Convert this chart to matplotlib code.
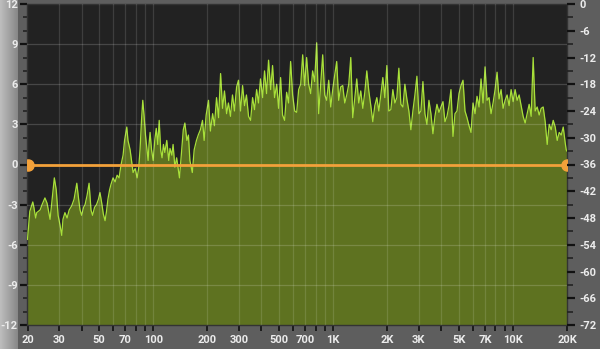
import numpy as np
import matplotlib.pyplot as plt

# ---- data -------------------------------------------------------------
# low band: hand-read (Hz, dB on the left scale)
low_freq = [20, 20.3, 20.6, 21.4, 21.7, 22.2, 22.5, 23.5, 24.1, 25.0, 25.7, 26.7,
            27.4, 28.2, 28.9, 29.6, 30.3, 31.0, 31.5, 32.3, 33.2, 34.1, 35.2, 36.3,
            37.6, 38.5, 39.2, 40.0, 41.0, 41.8, 42.9, 44.0, 45.1, 46.0, 47.2, 48.4,
            49.6, 50.6, 51.9, 52.8, 54.0, 55.0, 56.0, 57.2, 58.2, 59.8, 61.4, 63.0,
            64.6, 66.3, 68.0, 69.3, 71.3, 72.4, 74.4, 75.8, 77.3, 79.4, 81.4, 83.0,
            84.5, 86.1, 87.5, 88.9, 90.6, 92.4, 93.7, 94.8, 96.1, 97.9, 100, 102,
            104, 106, 108, 110, 112, 114, 116, 119, 122, 124, 127, 129,
            132, 135, 138, 140, 144, 147, 150, 154, 157, 160, 165, 169,
            174, 178, 183, 188, 192, 197]
low_db = [-5.6, -4.5, -3.5, -2.8, -3.2, -4.0, -3.6, -3.4, -3.0, -2.5, -2.9, -4.1,
          -2.6, -1.0, -1.9, -3.8, -4.5, -5.3, -4.1, -3.6, -4.0, -3.4, -3.1, -2.6,
          -1.4, -2.6, -3.4, -3.8, -3.2, -3.0, -2.3, -1.4, -3.4, -3.8, -3.2, -3.0,
          -2.6, -2.1, -3.0, -3.7, -4.2, -3.5, -2.6, -1.9, -1.5, -1.0, -1.3, -0.8,
          -1.0, 0.0, 0.7, 1.8, 2.8, 1.8, 1.1, 0.3, -0.6, -0.3, -1.0, -0.3,
          1.1, 3.3, 4.8, 3.7, 2.2, 1.1, 0.3, 1.5, 2.4, 1.1, 0.3, 1.8,
          2.7, 1.5, 3.3, 1.1, 0.5, 1.5, 0.9, 1.8, 0.3, 1.2, 0.7, 1.5,
          -0.2, 0.5, -0.4, -1.0, 1.1, 2.6, 3.1, 1.8, 2.2, 0.3, -0.6, 1.1,
          1.8, 2.2, 2.6, 3.3, 1.8, 3.7]

# upper band: hand-read (Hz, dB)
high_freq = [203, 208, 214, 219, 225, 231, 237, 243, 249, 256,
             262, 269, 276, 283, 291, 298, 306, 314, 322, 330,
             339, 348, 357, 366, 376, 385, 395, 406, 416, 427,
             438, 450, 461, 473, 486, 498, 511, 524, 538, 552,
             566, 581, 596, 612, 628, 644, 661, 678, 695, 713,
             732, 751, 770, 790, 811, 832, 854, 876, 899, 922,
             946, 971, 996, 1022, 1048, 1075, 1103, 1132, 1162, 1192,
             1223, 1255, 1287, 1321, 1355, 1390, 1426, 1464, 1502, 1541,
             1581, 1622, 1664, 1707, 1752, 1797, 1844, 1892, 1941, 1992,
             2043, 2097, 2151, 2207, 2264, 2323, 2384, 2446, 2509, 2574,
             2641, 2710, 2780, 2853, 2927, 3003, 3081, 3161, 3243, 3328,
             3414, 3503, 3594, 3687, 3783, 3881, 3982, 4086, 4192, 4301,
             4413, 4527, 4645, 4766, 4890, 5017, 5147, 5281, 5418, 5559,
             5704, 5852, 6004, 6160, 6320, 6485, 6653, 6826, 7004, 7186,
             7373, 7564, 7761, 7963, 8170, 8382, 8600, 8824, 9053, 9289,
             9530, 9778, 10032, 10293, 10561, 10835, 11117, 11406, 11703, 12007,
             12319, 12640, 12968, 13306, 13652, 14006, 14371, 14744, 15128, 15521,
             15925, 16339, 16763, 17199, 17646, 18105, 18576, 19059, 19555, 19800,
             20000]
high_db = [4.8, 2.5, 3.8, 2.9, 5.0, 3.5, 6.8, 4.2, 5.5, 3.8,
           4.6, 3.6, 5.2, 4.0, 5.8, 6.3, 4.0, 5.9, 4.4, 5.2,
           3.6, 3.3, 5.0, 4.1, 5.6, 4.6, 6.4, 5.0, 7.0, 5.3,
           7.8, 5.6, 7.4, 5.0, 6.0, 4.2, 6.5, 3.7, 3.3, 5.4,
           4.6, 7.7, 5.2, 4.0, 3.9, 5.6, 6.0, 8.2, 5.9, 8.0,
           6.0, 5.3, 7.0, 6.2, 9.1, 3.8, 6.0, 8.2, 5.2, 4.8,
           6.3, 4.3, 5.6, 6.7, 7.7, 4.8, 5.8, 5.9, 4.6, 5.2,
           6.0, 8.0, 3.5, 5.0, 6.4, 4.6, 5.5, 4.2, 5.4, 7.0,
           5.5, 4.4, 3.2, 4.4, 5.0, 4.0, 5.2, 6.5, 5.0, 7.4,
           4.0, 4.1, 5.6, 4.6, 5.0, 7.2, 4.5, 4.3, 6.0, 4.9,
           4.0, 2.6, 4.0, 5.2, 6.6, 3.8, 4.0, 6.2, 3.8, 3.0,
           4.8, 3.8, 2.3, 3.6, 4.5, 3.9, 4.3, 4.7, 3.2, 3.6,
           4.4, 5.6, 2.1, 3.8, 4.0, 5.3, 5.9, 6.3, 4.0, 3.5,
           2.9, 2.4, 4.6, 3.8, 5.1, 4.3, 6.4, 4.6, 7.3, 4.8,
           5.0, 3.8, 4.6, 5.6, 6.9, 4.9, 5.6, 4.2, 4.8, 5.2,
           4.4, 5.6, 4.7, 5.6, 4.8, 5.2, 4.4, 3.6, 3.1, 3.8,
           4.5, 3.6, 8.0, 4.0, 4.3, 3.7, 4.2, 4.3, 3.2, 1.5,
           3.0, 2.6, 3.3, 2.8, 1.8, 2.4, 2.2, 2.8, 1.6, 1.1,
           1.0]

freq_ticks = [20, 30, 40, 50, 60, 70, 80, 90, 100,
              200, 300, 400, 500, 600, 700, 800, 900, 1000,
              2000, 3000, 4000, 5000, 6000, 7000, 8000, 9000, 10000, 20000]
freq_labels = {20: "20", 30: "30", 50: "50", 70: "70", 100: "100",
               200: "200", 300: "300", 500: "500", 700: "700", 1000: "1K",
               2000: "2K", 3000: "3K", 5000: "5K", 7000: "7K", 10000: "10K",
               20000: "20K"}
eq_ticks = [-12, -9, -6, -3, 0, 3, 6, 9, 12]
level_ticks = [0, -6, -12, -18, -24, -30, -36, -42, -48, -54, -60, -66, -72]

# ---- style ------------------------------------------------------------
plt.rcParams["font.family"] = ["Roboto", "DejaVu Sans"]
plt.rcParams["font.weight"] = "bold"
plt.rcParams["axes.unicode_minus"] = False

bg = "#5e5e5e"
txt = "#ececec"
lab = dict(labelcolor=txt, labelsize=8)

fig = plt.figure(figsize=(6.0, 3.49), dpi=100, facecolor=bg)

# soft bevel at the left edge
grad = np.linspace(1, 0, 64).reshape(1, -1)
bax = fig.add_axes([0, 0, 0.03, 1])
bax.imshow(grad, aspect="auto", cmap="gray", vmin=-2.5, vmax=2.2, extent=[0, 1, 0, 1])
bax.axis("off")

ax = fig.add_axes([27.5 / 600, 24 / 349, 539.5 / 600, 321 / 349])
ax.set_facecolor("#222222")

freqs = low_freq + high_freq
db = low_db + high_db

ax.fill_between(freqs, db, -12, color="#5e7220", lw=0, zorder=2)
ax.plot(freqs, db, color="#a8e03a", lw=0.9, zorder=3)

ax.set_xscale("log")
ax.set_xlim(20, 20000)
ax.set_ylim(-12, 12)

ax.set_xticks(freq_ticks)
ax.set_xticklabels([freq_labels.get(f, "") for f in freq_ticks])
ax.xaxis.set_minor_locator(plt.NullLocator())
ax.set_yticks(eq_ticks)
ax.set_yticklabels([str(t) for t in eq_ticks])
ax.set_yticks(range(-12, 13), minor=True)

for f in freq_ticks[1:-1]:
    ax.axvline(f, color="white", alpha=0.13, lw=0.9, zorder=4)
for t in [-9, -6, -3, 3, 6, 9]:
    ax.axhline(t, color="white", alpha=0.17, lw=0.9, zorder=4)

# flat EQ curve with end handles
ax.plot([20, 20000], [0, 0], color="#f3a13a", lw=2, zorder=5)
ax.plot([20, 20000], [0, 0], "o", color="#f3a13a", ms=8, zorder=6, clip_on=True)

ax.tick_params(axis="x", direction="out", length=4, width=1.2, color="#111111",
               pad=3, **lab)
ax.tick_params(axis="y", which="major", direction="out", length=5, width=1.6,
               color="#111111", pad=2, **lab)
ax.tick_params(axis="y", which="minor", direction="out", length=3, width=1.2,
               color="#222222")
for s in ax.spines.values():
    s.set_color("#333333")
    s.set_linewidth(1)

ax2 = ax.twinx()
ax2.set_ylim(-72, 0)
ax2.set_yticks(level_ticks)
ax2.set_yticklabels([str(t) for t in level_ticks])
ax2.set_yticks(range(-72, 1, 3), minor=True)
ax2.tick_params(axis="y", which="major", direction="out", length=6, width=1.6,
                color="#111111", pad=3, **lab)
ax2.tick_params(axis="y", which="minor", direction="out", length=4, width=1.2,
                color="#222222")
for s in ax2.spines.values():
    s.set_visible(False)

fig.savefig("out.png", dpi=100, facecolor=bg)
